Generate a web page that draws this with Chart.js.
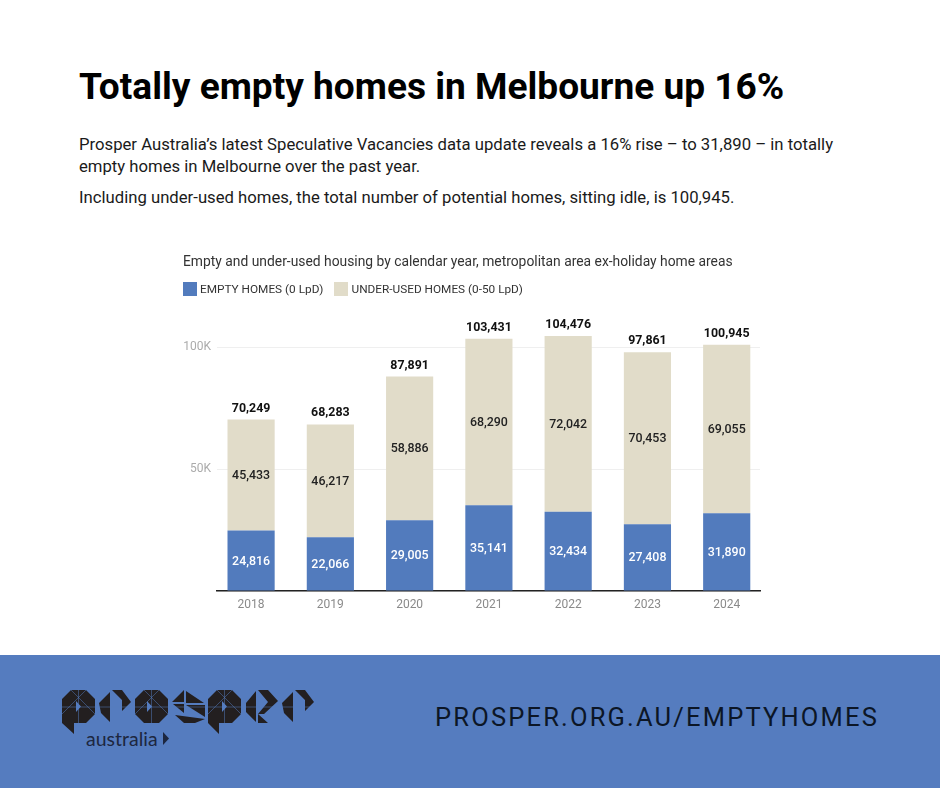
<!DOCTYPE html>
<html>
<head>
<meta charset="utf-8">
<script src="https://cdn.jsdelivr.net/npm/chart.js@4"></script>
<style>
  html, body { margin: 0; padding: 0; background: #fff; }
  body { position: relative; width: 940px; height: 788px; overflow: hidden; font-family: Roboto, sans-serif; color: #111; }
  h1 { position: absolute; left: 79px; top: 65px; margin: 0; font-size: 37.1px; line-height: 43px; font-weight: 700; color: #000; white-space: nowrap; }
  p { position: absolute; left: 79px; margin: 0; font-size: 16.7px; line-height: 22px; white-space: nowrap; color: #1a1a1a; }
  #chart { position: absolute; left: 170px; top: 240px; }
  #legend { position: absolute; left: 183px; top: 282px; display: flex; font-size: 11.8px; line-height: 14px; color: #333; white-space: nowrap; }
  #legend span { display: inline-block; width: 14px; height: 14px; margin-right: 3px; }
  #legend div { display: flex; margin-right: 11px; }
  #footer { position: absolute; left: 0; top: 655px; width: 940px; height: 133px; background: #557cbf; }
  #url { position: absolute; left: 435px; top: 47px; font-size: 25.5px; line-height: 30px; letter-spacing: 2.18px; color: #0c1626; white-space: nowrap; }
  #logo { position: absolute; left: 62px; top: 35px; }
  #aus { position: absolute; left: 24px; top: 38px; font-family: Lato, sans-serif; font-size: 19.5px; line-height: 22px; color: #1d2740; }
</style>
</head>
<body>
<h1>Totally empty homes in Melbourne up 16%</h1>
<p style="top:134px">Prosper Australia’s latest Speculative Vacancies data update reveals a 16% rise – to 31,890 – in totally</p>
<p style="top:156px">empty homes in Melbourne over the past year.</p>
<p style="top:187px">Including under-used homes, the total number of potential homes, sitting idle, is 100,945.</p>

<canvas id="chart" width="600" height="380"></canvas>
<div id="legend"></div>

<div id="footer">
  <div id="logo">
    <svg width="254" height="48" viewBox="0 0 254 48">
      <g fill="#231f20">
        <!-- p -->
        <path d="M0 9L9 0H24L33 9V24L24 33H12V44L0 33Z"/>
        <!-- r -->
        <path d="M37 13L48 2V32L39 23Z M50 0H60L69 12L60 21V10Z"/>
        <!-- o -->
        <path d="M82 0H97L106 9V24L97 33H82L73 24V9Z"/>
        <!-- s -->
        <path d="M110 12L122 0V12Z M124 1L142 13H124Z M111 14H122V23Z M124 15L143 27V15Z M143 29L133 33H122L113 25Z"/>
        <!-- p -->
        <path d="M146 9L155 0H170L179 9V24L170 33H157V44L146 33Z"/>
        <!-- e -->
        <path d="M184 13L194 1V32L184 22Z M196 0H206L216 11L202 24H196L206 12Z M196 24L206 33H196Z"/>
        <!-- r -->
        <path d="M220 13L231 2V32L222 23Z M233 0H243L252 12L243 21V10Z"/>
      </g>
      <g fill="#557cbf">
        <path d="M14 11L19 16.500L14 22Z M85 11L90 16.500L85 22Z M160 11L165 16.500L160 22Z"/>
      </g>
      <g stroke="#557cbf" stroke-width="0.5">
        <path d="M0 17H254M16.500 0V44M89.500 0V33M162.500 0V44M0 24L24 0M9 0L33 24M73 24L97 0M82 0L106 24M146 24L170 0M155 0L179 24"/>
      </g>
    </svg>
    <div id="aus">australia</div>
    <svg style="position:absolute;left:101px;top:42px" width="6" height="13" viewBox="0 0 6 13"><path d="M0 0L6 6.500L0 13Z" fill="#1d2740"/></svg>
  </div>
  <div id="url">PROSPER.ORG.AU/EMPTYHOMES</div>
</div>

<script>
const years = ['2018', '2019', '2020', '2021', '2022', '2023', '2024'];
const emptyHomes = [24816, 22066, 29005, 35141, 32434, 27408, 31890];
const underUsedHomes = [45433, 46217, 58886, 68290, 72042, 70453, 69055];
const totals = [70249, 68283, 87891, 103431, 104476, 97861, 100945];
const yTickValues = [0, 50000, 100000];
const yTickLabels = ['', '50K', '100K'];

const toPoints = (values) => values.map((v, i) => ({ x: i, y: v }));
const fmt = (v) => v.toLocaleString('en-US');

// value labels inside the segments and totals on top of the stacks
const barLabels = {
  id: 'barLabels',
  afterDatasetsDraw(chart) {
    const ctx = chart.ctx;
    ctx.save();
    ctx.textAlign = 'center';
    ctx.textBaseline = 'middle';
    ctx.font = '500 12.4px Roboto';
    chart.data.datasets.forEach((ds, d) => {
      ctx.fillStyle = d === 0 ? '#ffffff' : '#222222';
      chart.getDatasetMeta(d).data.forEach((bar, i) => {
        ctx.fillText(fmt(ds.data[i].y), bar.x, (bar.y + bar.base) / 2 + 1);
      });
    });
    ctx.font = '700 12.4px Roboto';
    ctx.fillStyle = '#111111';
    chart.getDatasetMeta(1).data.forEach((bar, i) => {
      ctx.fillText(fmt(totals[i]), bar.x, bar.y - 11);
    });
    ctx.restore();
  }
};

const chart = new Chart(document.getElementById('chart'), {
  type: 'bar',
  data: {
    datasets: [
      { label: 'EMPTY HOMES (0 LpD)', data: toPoints(emptyHomes), backgroundColor: '#527bbd' },
      { label: 'UNDER-USED HOMES (0-50 LpD)', data: toPoints(underUsedHomes), backgroundColor: '#e1dcc9' }
    ]
  },
  plugins: [barLabels],
  options: {
    responsive: false,
    animation: false,
    events: [],
    layout: { padding: { left: 13, right: 10 } },
    datasets: { bar: { barPercentage: 0.595, categoryPercentage: 1 } },
    scales: {
      x: {
        type: 'linear',
        stacked: true,
        min: -0.43,
        max: 6.42,
        offset: false,
        afterFit: (axis) => { axis.height = 29; },
        grid: { display: false, drawTicks: false },
        border: { color: '#222222', width: 1.5 },
        ticks: {
          stepSize: 1,
          includeBounds: false,
          autoSkip: false,
          maxRotation: 0,
          padding: 7,
          color: '#8a8a8a',
          font: { family: 'Roboto', size: 12 },
          callback: (v) => years[v]
        }
      },
      y: {
        stacked: true,
        min: 0,
        max: 110000,
        // stepSize gets rounded to fit min/max here, so set the ticks directly
        afterBuildTicks: (axis) => { axis.ticks = yTickValues.map((value) => ({ value })); },
        afterFit: (axis) => { axis.width = 34; },
        grid: { color: '#efefef', drawTicks: false },
        border: { display: false },
        ticks: {
          padding: 6,
          color: '#ababab',
          font: { family: 'Roboto', size: 12 },
          callback: (v) => yTickLabels[yTickValues.indexOf(v)]
        }
      }
    },
    plugins: {
      tooltip: { enabled: false },
      legend: { display: false },
      title: {
        display: true,
        text: 'Empty and under-used housing by calendar year, metropolitan area ex-holiday home areas',
        align: 'start',
        color: '#333333',
        font: { family: 'Roboto', size: 13.85, weight: 'normal' },
        padding: { top: 14, bottom: 52 }
      }
    }
  }
});

// legend sits tight against the left edge, so it's plain html
document.getElementById('legend').innerHTML = chart.data.datasets
  .map((ds) => `<div><span style="background:${ds.backgroundColor}"></span>${ds.label}</div>`)
  .join('');
</script>
</body>
</html>
